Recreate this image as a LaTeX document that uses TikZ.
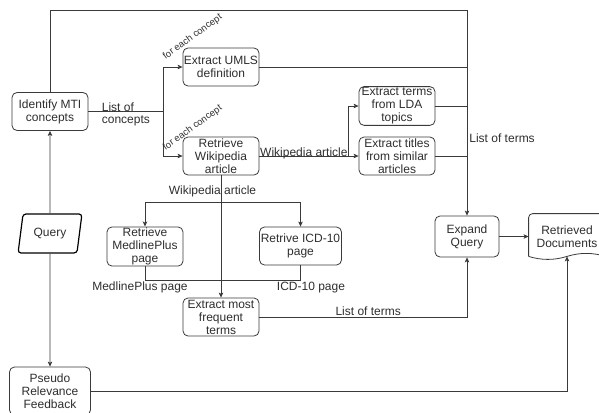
\documentclass[tikz,border=0pt]{standalone}
\usepackage{fontspec}
\setmainfont{Liberation Sans}
\usepackage{tikz}
\usetikzlibrary{positioning, calc, arrows.meta, shapes.geometric}
\definecolor{lineclr}{HTML}{3A3A3A}
\definecolor{txtclr}{HTML}{2E2E2E}

\begin{document}
\begin{tikzpicture}[x=1pt,y=-1pt,on grid,line width=0.8pt,
  every node/.style={text=txtclr,font=\fontsize{12}{13}\selectfont},
  box/.style={draw=lineclr,rounded corners=5pt,fill=white,minimum width=76pt,minimum height=38pt,align=center,inner sep=1pt},
  query/.style={draw=black,line width=1.2pt,trapezium,trapezium left angle=76,trapezium right angle=104,trapezium stretches=true,rounded corners=3pt,minimum width=64pt,minimum height=39pt,inner sep=1pt},
  docbox/.style={minimum width=76pt,minimum height=45pt,align=center,inner sep=1pt},
  flow/.style={draw=lineclr,-{Stealth[length=5pt,width=4.5pt,inset=1.2pt]}},
  wire/.style={draw=lineclr},
  tag/.style={font=\fontsize{12}{12}\selectfont,inner sep=1pt},
  each/.style={font=\fontsize{9.5}{10}\selectfont,rotate=36,inner sep=0pt}]
 \useasboundingbox (0,0) rectangle (599,412);
 \node[box] (mti) at (50,111.5) {Identify MTI\\concepts};
 \node[box] (umls) [above right=44.5pt and 171pt of mti] {Extract UMLS\\definition};
 \node[box] (wiki) [below=89pt of umls] {Retrieve\\Wikipedia\\article};
 \node[box] (lda) [above right=50pt and 176pt of wiki] {Extract terms\\from LDA\\topics};
 \node[box] (titles) [right=176pt of wiki] {Extract titles\\from similar\\articles};
 \node[box] (freq) [below=161pt of wiki] {Extract most\\frequent\\terms};
 \node[box] (medline) [above left=70.5pt and 76pt of freq] {Retrieve\\MedlinePlus\\page};
 \node[box,minimum width=82pt] (icd) [above right=71pt and 79.5pt of freq] {Retrive ICD-10\\page};
 \node[query] (query) [below=122pt of mti] {Query};
 \node[box,minimum width=81pt,minimum height=48pt] (pseudo) [below=157.5pt of query] {Pseudo\\Relevance\\Feedback};
 \node[box,minimum width=64pt,minimum height=41pt] (expand) [below right=80.5pt and 70pt of titles] {Expand\\Query};
 \node[docbox] (docs) [right=100pt of expand] {Retrieved\\Documents};
 \draw[wire,rounded corners=4pt] ($(docs.south west)+(0,-3)$) -- (docs.north west) -- (docs.north east)
   [sharp corners] -- ($(docs.south east)+(0,-3)$)
   .. controls ($(docs.south east)+(-12.7,-7)$) and ($(docs.south)+(12.7,-7)$) .. ($(docs.south)+(0,-3)$) coordinate (docsb)
   .. controls ($(docs.south)+(-12.7,1)$) and ($(docs.south west)+(12.7,1)$) .. ($(docs.south west)+(0,-3)$);
 \coordinate (top) at (0,10);
 \coordinate (fork) at ($(wiki.south)+(0,27)$);
 \coordinate (merge) at ($(freq.north)+(0,-17)$);

 \draw[flow] (mti.north) -- (mti.north |- top) -| (expand.north);
 \draw[wire] (umls.east) -- (umls.east -| expand);
 \draw[wire] (lda.east) -- (lda.east -| expand);
 \draw[wire] (titles.east) -- (titles.east -| expand);
 \node[tag,anchor=west] (terms) at ($(expand.north)+(1,-77)$) {List of terms};

 \draw[wire] (mti.east) -- node[tag,align=left,yshift=-2.5pt] (concepts) {List of\\concepts} ++(75,0) coordinate (split);
 \draw[flow] (split) |- (umls.west);
 \draw[flow] (split) |- (wiki.west);
 \node[each] (eachA) at ($(umls.west)+(10,-30)$) {for each concept};
 \node[each] (eachB) at ($(wiki.west)+(10,-28)$) {for each concept};

 \draw[wire] (wiki.east) -- node[tag,anchor=base] (wikiA) {Wikipedia article} ++(89,0) coordinate (split2);
 \draw[flow] (split2) |- (lda.west);
 \draw[flow] (split2) -- (titles.west);

 \draw[flow] (wiki.south) -- (freq.north);
 \draw[flow] (fork) -| (medline.north);
 \draw[flow] (fork) -| (icd.north);
 \node[tag] (wikiB) at ($(wiki.south)+(-8.5,16)$) {Wikipedia article};
 \draw[wire] (medline.south) |- node[tag,below,xshift=-5pt] (mpage) {MedlinePlus page} (merge);
 \draw[wire] (icd.south) |- node[tag,below,xshift=10.5pt] (ipage) {ICD-10 page} (merge);

 \draw[flow] (freq.east) -| node[tag,pos=0.25,above,xshift=5pt] (fterms) {List of terms} (expand.south);
 \draw[flow] (query) -- (mti);
 \draw[flow] (query) -- (pseudo);
 \draw[flow] (expand) -- (docs);
 \draw[flow] (pseudo.east) -| (docsb);
\end{tikzpicture}
\end{document}
